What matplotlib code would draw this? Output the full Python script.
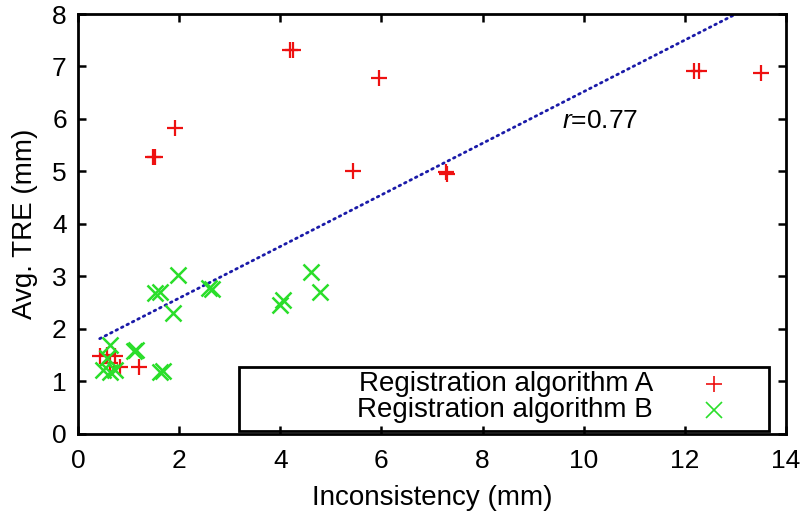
import numpy as np
import matplotlib
matplotlib.use('Agg')
import matplotlib.pyplot as plt
from matplotlib.patches import Rectangle

plt.rcParams['font.family'] = ['Liberation Sans', 'DejaVu Sans']
plt.rcParams['mathtext.fontset'] = 'custom'
plt.rcParams['mathtext.rm'] = 'Liberation Sans'
plt.rcParams['mathtext.it'] = 'Liberation Sans:italic'

# registration algorithm A (red +)
a_x = [4.20, 4.26, 5.95, 1.92, 1.48, 1.53, 5.43, 7.27, 7.29, 12.18, 12.27, 13.50,
       0.43, 0.73, 0.63, 0.83, 1.20, 0.58]
a_y = [7.31, 7.31, 6.78, 5.83, 5.28, 5.27, 5.01, 4.98, 4.96, 6.92, 6.91, 6.88,
       1.48, 1.48, 1.35, 1.28, 1.27, 1.50]

# registration algorithm B (green x)
b_x = [1.98, 1.53, 1.62, 1.88, 2.60, 2.66, 4.00, 4.05, 4.60, 4.78,
       0.63, 1.10, 1.14, 0.57, 0.50, 0.73, 0.63, 1.63, 1.68]
b_y = [3.03, 2.68, 2.70, 2.30, 2.78, 2.75, 2.45, 2.55, 3.08, 2.70,
       1.70, 1.58, 1.60, 1.45, 1.22, 1.22, 1.18, 1.17, 1.19]

# least squares line reported in the chart
fit_slope = 0.492
fit_icpt = 1.60
r_value = 0.77

red = '#ee1111'
green = '#2ade2a'

fig = plt.figure(figsize=(8.12, 5.2), dpi=100)
ax = fig.add_subplot(111)
fig.subplots_adjust(left=0.096, right=0.968, top=0.973, bottom=0.166)

xs = np.array([min(a_x + b_x), max(a_x + b_x)])
ax.plot(xs, fit_slope * xs + fit_icpt, ls=(0, (0.6, 1.6)), color='#1a1aa8',
        lw=2.0, dash_capstyle='round', zorder=1)
ax.plot(a_x, a_y, ls='none', marker='+', ms=12, mew=1.6, color=red, zorder=2)
ax.plot(b_x, b_y, ls='none', marker='x', ms=11, mew=1.8, color=green, zorder=3)

ax.text(9.58, 5.96, r'$r$=%.2f' % r_value, fontsize=19, ha='left', va='center')

ax.set_xlim(0, 14)
ax.set_ylim(0, 8)
ax.set_xticks(np.arange(0, 15, 2))
ax.set_yticks(np.arange(0, 9, 1))
ax.tick_params(direction='in', length=6, width=1.8, top=True, right=True,
               labelsize=19, pad=8)
ax.tick_params(axis='x', pad=11)
for s in ax.spines.values():
    s.set_linewidth(2.0)

ax.set_xlabel('Inconsistency (mm)', fontsize=20, labelpad=9)
ax.set_ylabel('Avg. TRE (mm)', fontsize=20, labelpad=10)

# gnuplot style key box
ax.add_patch(Rectangle((0.227, 0.007), 0.749, 0.153, transform=ax.transAxes,
                       fill=False, lw=2.0, ec='black', zorder=5, clip_on=False))
ax.text(0.812, 0.119, 'Registration algorithm A', transform=ax.transAxes,
        ha='right', va='center', fontsize=20, zorder=6)
ax.text(0.812, 0.057, 'Registration algorithm B', transform=ax.transAxes,
        ha='right', va='center', fontsize=20, zorder=6)
ax.plot([0.898], [0.119], transform=ax.transAxes, marker='+', ms=12, mew=1.2,
        color=red, clip_on=False, zorder=6)
ax.plot([0.898], [0.057], transform=ax.transAxes, marker='x', ms=11, mew=1.2,
        color=green, clip_on=False, zorder=6)

fig.savefig('out.png', dpi=100)
